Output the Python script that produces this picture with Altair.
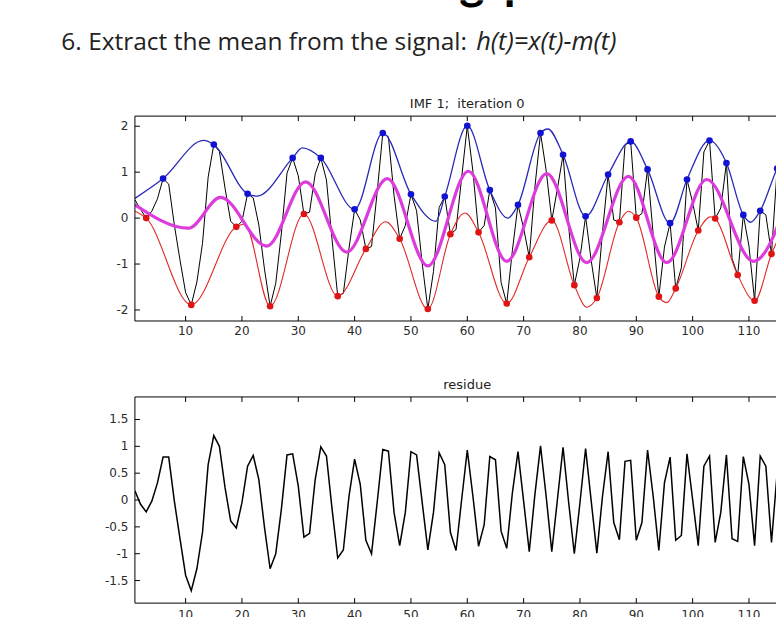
import altair as alt
import pandas as pd

# ---------------- data ----------------
t = list(range(1, 116))

signal = [
    0.40, 0.19, 0.00, 0.15, 0.42, 0.86, 0.74, -0.15, -0.91, -1.62,
    -1.89, -1.39, -0.55, 0.89, 1.60, 1.45, 0.65, -0.07, -0.19, -0.07,
    0.53, 0.44, -0.15, -1.11, -1.92, -1.42, -0.33, 0.98, 1.31, 0.92,
    0.09, 0.13, 0.96, 1.31, 0.83, -0.47, -1.70, -1.64, -0.66, 0.19,
    -0.04, -0.67, -0.62, 0.56, 1.85, 1.77, 0.49, -0.45, -0.16, 0.52,
    0.16, -0.99, -1.98, -1.16, 0.23, 0.47, -0.35, -0.25, 0.88, 2.01,
    1.02, -0.31, -0.16, 0.61, 0.22, -1.40, -1.86, -0.71, 0.29, -0.22,
    -0.85, 0.67, 1.85, 1.04, -0.05, 0.64, 1.38, -0.19, -1.46, -0.87,
    0.04, -0.93, -1.74, -0.30, 0.95, -0.04, -0.09, 1.59, 1.67, 0.01,
    0.10, 1.06, -0.36, -1.71, -0.63, -0.11, -1.53, -1.08, 0.84, 0.34,
    -0.27, 1.44, 1.69, -0.01, 0.22, 1.20, -0.88, -1.24, 0.07, -0.61,
    -1.80, 0.16, 0.07, -0.78, 1.08,
]

residue = [
    0.17, -0.08, -0.22, -0.02, 0.32, 0.80, 0.80, -0.02, -0.72, -1.40,
    -1.69, -1.28, -0.60, 0.66, 1.20, 1.00, 0.23, -0.39, -0.52, -0.05,
    0.63, 0.83, 0.38, -0.51, -1.28, -1.00, -0.17, 0.84, 0.86, 0.26,
    -0.69, -0.62, 0.38, 0.99, 0.82, -0.17, -1.08, -0.93, 0.07, 0.76,
    0.29, -0.75, -1.00, -0.05, 0.94, 0.91, -0.23, -0.85, -0.23, 0.90,
    0.84, -0.05, -0.93, -0.23, 0.88, 0.66, -0.60, -0.94, 0.01, 0.93,
    0.07, -0.86, -0.46, 0.81, 0.75, -0.58, -0.90, 0.13, 0.90, -0.02,
    -0.96, 0.10, 1.01, 0.07, -0.96, 0.01, 0.98, -0.05, -1.00, -0.05,
    0.96, -0.02, -0.99, 0.07, 0.90, -0.42, -0.74, 0.72, 0.74, -0.75,
    -0.42, 0.93, 0.07, -0.94, 0.32, 0.80, -0.75, -0.66, 0.86, 0.01,
    -0.85, 0.63, 0.82, -0.79, -0.23, 0.84, -0.72, -0.77, 0.81, 0.29,
    -0.85, 0.82, 0.63, -0.79, 0.50,
]

# sample positions of the local maxima / minima of the signal
max_t = [6, 15, 21, 29, 34, 40, 45, 50, 56, 60, 64, 69, 73, 77, 81, 85,
         89, 92, 96, 99, 103, 106, 109, 112, 115]
min_t = [3, 11, 19, 25, 31, 37, 42, 48, 53, 57, 62, 67, 71, 75, 79, 83,
         87, 90, 94, 97, 101, 104, 108, 111, 114]

# extra points along the envelopes (ends and turning points between extrema)
upper_extra_t = [1, 13.2, 22.7, 30.7, 54.4, 67.2, 74.3, 110.3, 118]
upper_extra_v = [0.43, 1.69, 0.48, 1.53, -0.07, 0.00, 1.94, -0.09, 1.70]
lower_extra_t = [1, 20.5, 45.5, 59.6, 81.2, 88.6, 95.4, 103.2, 118]
lower_extra_v = [0.15, -0.13, -0.08, 0.11, -1.94, 0.15, -1.84, 0.03, 0.20]

# turning points of the mean envelope m(t)
mean_t = [1, 10.5, 16.2, 24.4, 31.3, 38.6, 45.8, 53, 60.2, 67, 74.1, 81.2,
          88.6, 95.4, 102.5, 110.8, 118]
mean_v = [0.29, -0.22, 0.45, -0.61, 0.79, -0.74, 0.86, -1.04, 1.02, -0.94,
          0.97, -0.97, 0.91, -0.97, 0.84, -0.94, 0.85]

x_ticks = [10, 20, 30, 40, 50, 60, 70, 80, 90, 100, 110]
x_labels = ["10", "20", "30", "40", "50", "60", "70", "80", "90", "100", "110"]
y_ticks_top = [-2, -1, 0, 1, 2]
y_labels_top = ["-2", "-1", "0", "1", "2"]
y_ticks_bottom = [-1.5, -1, -0.5, 0, 0.5, 1, 1.5]
y_labels_bottom = ["-1.5", "-1", "-0.5", "0", "0.5", "1", "1.5"]

page_title = ["The sifting", "process"]
step_text = "6. Extract the mean from the signal:"
step_formula = "h(t)=x(t)-m(t)"
top_title = "IMF 1;\u00a0\u00a0iteration 0"
bottom_title = "residue"

# ---------------- layout constants ----------------
W = 641.5
X_DOMAIN = [1, 114.8]
H_TOP = 205
H_BOT = 206.3
TICK = 5
AX_FONT = "DejaVu Sans"
AX_SIZE = 12
AX_COLOR = "#2a2a2a"
SLIDE_FONT = "Open Sans"

xs = alt.Scale(domain=X_DOMAIN, nice=False, zero=False)

sig_df = pd.DataFrame({"t": t, "v": signal})
res_df = pd.DataFrame({"t": t, "v": residue})
lookup = dict(zip(t, signal))
max_df = pd.DataFrame({"t": max_t, "v": [lookup[k] for k in max_t]})
min_df = pd.DataFrame({"t": min_t, "v": [lookup[k] for k in min_t]})
upper_df = pd.concat([max_df, pd.DataFrame({"t": upper_extra_t, "v": upper_extra_v})]).sort_values("t")
lower_df = pd.concat([min_df, pd.DataFrame({"t": lower_extra_t, "v": lower_extra_v})]).sort_values("t")
mean_df = pd.DataFrame({"t": mean_t, "v": mean_v})
xt_df = pd.DataFrame({"tick": x_ticks, "label": x_labels})


def frame_layers(y_scale, y_ticks, y_labels, height, x_tick_labels=True):
    """Matlab-style box: inward ticks on bottom, top and left, edges and tick labels."""
    yt_df = pd.DataFrame({"tick": y_ticks, "label": y_labels})
    rule = dict(color="black", strokeWidth=1)
    layers = [
        alt.Chart(xt_df).mark_rule(**rule).encode(
            x=alt.X("tick:Q", scale=xs, axis=None),
            y=alt.value(height), y2=alt.value(height - TICK)),
        alt.Chart(xt_df).mark_rule(**rule).encode(
            x=alt.X("tick:Q", scale=xs, axis=None),
            y=alt.value(0), y2=alt.value(TICK)),
        alt.Chart(yt_df).mark_rule(**rule).encode(
            y=alt.Y("tick:Q", scale=y_scale, axis=None),
            x=alt.value(0), x2=alt.value(TICK)),
        # box edges: top, bottom, left
        alt.Chart(xt_df.head(1)).mark_rule(**rule).encode(
            y=alt.value(0), x=alt.value(0), x2=alt.value(W)),
        alt.Chart(xt_df.head(1)).mark_rule(**rule).encode(
            y=alt.value(height), x=alt.value(0), x2=alt.value(W)),
        alt.Chart(xt_df.head(1)).mark_rule(**rule).encode(
            x=alt.value(0), y=alt.value(0), y2=alt.value(height)),
        alt.Chart(yt_df).mark_text(font=AX_FONT, fontSize=AX_SIZE, color=AX_COLOR,
                                   align="right", baseline="middle").encode(
            y=alt.Y("tick:Q", scale=y_scale, axis=None), x=alt.value(-6.5),
            text="label:N"),
    ]
    if x_tick_labels:
        layers.append(
            alt.Chart(xt_df).mark_text(font=AX_FONT, fontSize=AX_SIZE, color=AX_COLOR,
                                       align="center", baseline="top").encode(
                x=alt.X("tick:Q", scale=xs, axis=None), y=alt.value(height + 5.5),
                text="label:N"))
    return layers


def panel_title(text):
    return alt.Chart(pd.DataFrame({"s": [text]})).mark_text(
        font=AX_FONT, fontSize=13, color="#222", align="center", baseline="alphabetic"
    ).encode(text="s:N", x=alt.value(332.5), y=alt.value(-8))


# ---------------- header ----------------
hdr_title_a = alt.Chart(pd.DataFrame({"s": [page_title[0]]})).mark_text(
    font="Lato", fontWeight="bold", fontSize=48, color="black",
    align="right", baseline="alphabetic", clip=True
).encode(text="s:N", x=alt.value(350), y=alt.value(-1))
hdr_title_b = alt.Chart(pd.DataFrame({"s": [page_title[1]]})).mark_text(
    font="Lato", fontWeight="bold", fontSize=48, color="black",
    align="left", baseline="alphabetic", clip=True
).encode(text="s:N", x=alt.value(369), y=alt.value(-1))
hdr_step = alt.Chart(pd.DataFrame({"s": [step_text]})).mark_text(
    font=SLIDE_FONT, fontSize=24.5, color="#222", align="left", baseline="alphabetic"
).encode(text="s:N", x=alt.value(-73.6), y=alt.value(50.3))
hdr_formula = alt.Chart(pd.DataFrame({"s": [step_formula]})).mark_text(
    font=SLIDE_FONT, fontSize=25.5, fontStyle="italic", color="#222", align="left",
    baseline="alphabetic"
).encode(text="s:N", x=alt.value(341.5), y=alt.value(50.3))
header = alt.layer(hdr_title_a, hdr_title_b, hdr_step, hdr_formula).properties(width=W, height=40)


def spacer(h):
    return alt.Chart(pd.DataFrame({"s": [""]})).mark_text().encode(
        text="s:N", x=alt.value(0), y=alt.value(0)).properties(width=W, height=h)


def xy(ys):
    return dict(x=alt.X("t:Q", scale=xs, axis=None), y=alt.Y("v:Q", scale=ys, axis=None))


# ---------------- top panel: signal, envelopes and mean ----------------
ys_top = alt.Scale(domain=[-2.24, 2.22], nice=False, zero=False)

sig_line = alt.Chart(sig_df).mark_line(color="black", strokeWidth=1, clip=True).encode(**xy(ys_top))
upper_line = alt.Chart(upper_df).mark_line(color="#2a2ab8", strokeWidth=1.3,
                                           interpolate="monotone", clip=True).encode(**xy(ys_top))
lower_line = alt.Chart(lower_df).mark_line(color="#e02a2a", strokeWidth=1.1,
                                           interpolate="monotone", clip=True).encode(**xy(ys_top))
mean_line = alt.Chart(mean_df).mark_line(color="#dc3cdc", strokeWidth=3.2,
                                         interpolate="monotone", clip=True).encode(**xy(ys_top))
max_pts = alt.Chart(max_df).mark_circle(color="#1212d2", size=44, opacity=1,
                                        clip=True).encode(**xy(ys_top))
min_pts = alt.Chart(min_df).mark_circle(color="#e01414", size=44, opacity=1,
                                        clip=True).encode(**xy(ys_top))

top_panel = alt.layer(
    sig_line, upper_line, lower_line, mean_line, max_pts, min_pts,
    *frame_layers(ys_top, y_ticks_top, y_labels_top, H_TOP), panel_title(top_title)
).properties(width=W, height=H_TOP)

# ---------------- bottom panel: residue h(t) ----------------
ys_bot = alt.Scale(domain=[-1.92, 1.92], nice=False, zero=False)
res_line = alt.Chart(res_df).mark_line(color="black", strokeWidth=1.5, clip=True).encode(**xy(ys_bot))
bottom_panel = alt.layer(
    res_line, *frame_layers(ys_bot, y_ticks_bottom, y_labels_bottom, H_BOT, x_tick_labels=False),
    panel_title(bottom_title)
).properties(width=W, height=H_BOT)

# x tick labels of the lower panel, cut by the page edge
bottom_labels = alt.Chart(xt_df).mark_text(
    font=AX_FONT, fontSize=AX_SIZE, color=AX_COLOR, align="center", baseline="top", clip=True
).encode(x=alt.X("tick:Q", scale=xs, axis=None), text="label:N", y=alt.value(6.2)
).properties(width=W, height=617 - 40 - 76 - H_TOP - 76 - H_BOT)

chart = alt.vconcat(
    header, spacer(76), top_panel, spacer(76), bottom_panel, bottom_labels,
    spacing=0, bounds="flush"
).properties(
    padding={"left": 61, "top": 0, "right": 0, "bottom": 0},
    background="white",
).configure_view(stroke=None)

chart.save("out.html", embed_options={"renderer": "svg", "actions": False})
